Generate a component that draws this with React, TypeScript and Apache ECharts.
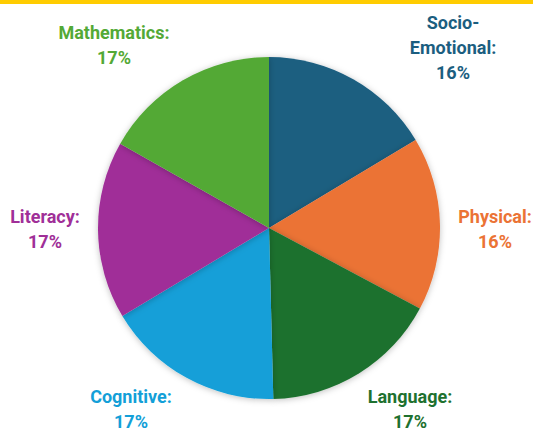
import React, { useEffect, useRef } from "react";
import * as echarts from "echarts";

const categories = ["Socio-\nEmotional", "Physical", "Language", "Cognitive", "Literacy", "Mathematics"];
const values = [16.4, 16.4, 16.8, 16.8, 16.8, 16.8];
const colors = ["#1B5E80", "#EB7335", "#1E712F", "#139FD8", "#A02F98", "#53A936"];
const labelPos: [number, number][] = [
  [453, 47],
  [495, 229],
  [410, 409],
  [131, 409],
  [45, 229],
  [114, 45],
];

export default function App() {
  const ref = useRef<HTMLDivElement>(null);
  useEffect(() => {
    if (!ref.current) return;
    const chart = echarts.init(ref.current, null, { renderer: "svg" });
    chart.setOption({
      animation: false,
      backgroundColor: "#ffffff",
      graphic: [
        { type: "rect", left: 0, top: 0, shape: { width: 533, height: 4 }, style: { fill: "#FFCC00" } },
      ],
      series: [
        {
          type: "pie",
          center: [269, 228],
          radius: 171,
          startAngle: 90,
          clockwise: true,
          data: categories.map((c, i) => ({
            name: c,
            value: values[i],
            itemStyle: { color: colors[i] },
            label: { color: colors[i] },
          })),
          itemStyle: { borderWidth: 0, shadowBlur: 6, shadowColor: "rgba(0,0,0,0.25)", shadowOffsetY: 1 },
          label: {
            show: true,
            position: "outside",
            formatter: (p: any) => `${p.name}:\n${Math.round(p.percent)}%`,
            fontFamily: "Roboto",
            fontWeight: "bold",
            fontSize: 18,
            lineHeight: 25,
            align: "center",
            overflow: "none",
            width: 160,
          },
          labelLine: { show: false },
          labelLayout: (p: any) => ({
            x: labelPos[p.dataIndex][0],
            y: labelPos[p.dataIndex][1],
            align: "center",
            verticalAlign: "middle",
          }),
        },
      ],
    });
    return () => chart.dispose();
  }, []);
  return <div ref={ref} style={{ position: "fixed", left: 0, top: 0, width: 533, height: 431 }} />;
}
